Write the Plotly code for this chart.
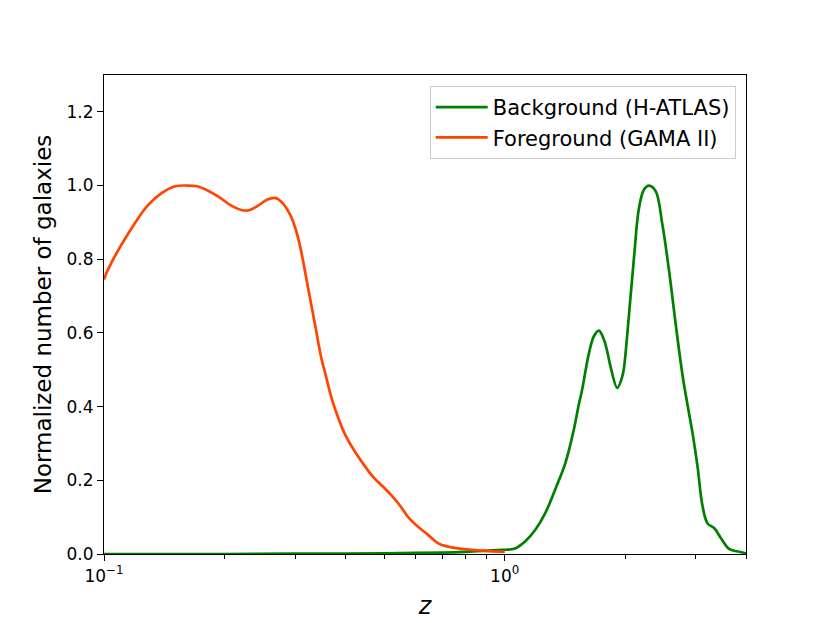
import plotly.graph_objects as go

# Background (H-ATLAS) redshift distribution
bg_z = [0.10, 0.20, 0.30, 0.40, 0.50, 0.60, 0.70, 0.80, 0.91, 0.983, 1.061, 1.124, 1.191,
        1.262, 1.337, 1.416, 1.487, 1.530, 1.560, 1.621, 1.669, 1.718, 1.768, 1.802,
        1.836, 1.909, 1.965, 1.984, 2.042, 2.101, 2.163, 2.226, 2.291, 2.380, 2.474,
        2.572, 2.672, 2.777, 2.858, 2.942, 3.028, 3.117, 3.208, 3.335, 3.464, 3.637,
        3.852, 4.00]
bg_n = [0.000, 0.000, 0.001, 0.001, 0.002, 0.003, 0.004, 0.006, 0.009, 0.011, 0.015, 0.034, 0.065,
        0.111, 0.176, 0.246, 0.337, 0.405, 0.446, 0.543, 0.591, 0.606, 0.582, 0.550,
        0.509, 0.451, 0.482, 0.505, 0.649, 0.803, 0.939, 0.989, 1.000, 0.985, 0.894,
        0.767, 0.622, 0.486, 0.405, 0.328, 0.237, 0.129, 0.083, 0.070, 0.043, 0.013,
        0.006, 0.002]

# Foreground (GAMA II) redshift distribution
fg_z = [0.100, 0.1025, 0.1196, 0.1291, 0.1395, 0.1507, 0.1612, 0.1708, 0.1809, 0.1953,
        0.2089, 0.2214, 0.2300, 0.2414, 0.2557, 0.2683, 0.2788, 0.2926, 0.3011, 0.3099,
        0.3190, 0.3284, 0.3380, 0.3479, 0.3581, 0.3686, 0.3831, 0.3980, 0.4177, 0.4425,
        0.4687, 0.4966, 0.5210, 0.5464, 0.5735, 0.6077, 0.6438, 0.6822, 0.7225, 0.7801,
        0.8266, 0.910, 1.000]
fg_n = [0.745, 0.774, 0.899, 0.948, 0.980, 0.998, 1.000, 0.998, 0.987, 0.966,
        0.944, 0.933, 0.933, 0.944, 0.962, 0.966, 0.953, 0.917, 0.880, 0.826,
        0.754, 0.681, 0.609, 0.536, 0.482, 0.428, 0.373, 0.328, 0.287, 0.246,
        0.210, 0.183, 0.160, 0.133, 0.101, 0.074, 0.052, 0.029, 0.020, 0.014,
        0.011, 0.008, 0.006]

x_major = [0.1, 1.0]
x_major_text = ["10<sup>\u22121</sup>", "10<sup>0</sup>"]
x_minor = [0.2, 0.3, 0.4, 0.5, 0.6, 0.7, 0.8, 0.9, 2, 3, 4]
y_ticks = [0.0, 0.2, 0.4, 0.6, 0.8, 1.0, 1.2]

FONT = "DejaVu Sans"

fig = go.Figure()
fig.add_trace(go.Scatter(x=bg_z, y=bg_n, mode="lines", name="Background (H-ATLAS)",
                         line=dict(color="#008000", width=2.7, shape="spline", smoothing=1.0)))
fig.add_trace(go.Scatter(x=fg_z, y=fg_n, mode="lines", name="Foreground (GAMA II)",
                         line=dict(color="#FF4500", width=2.7, shape="spline", smoothing=1.0)))

fig.update_layout(
    width=830, height=623,
    margin=dict(l=96, r=92, t=67, b=77),
    paper_bgcolor="white", plot_bgcolor="white",
    font=dict(family=FONT, color="black", size=17),
    showlegend=True,
    legend=dict(x=0.984, y=0.977, xanchor="right", yanchor="top",
                bgcolor="rgba(255,255,255,0.8)", bordercolor="#cccccc", borderwidth=1,
                itemwidth=52,
                font=dict(family=FONT, size=21, color="black")),
)
fig.update_xaxes(
    type="log", range=[-1, 0.60206],
    tickmode="array", tickvals=x_major, ticktext=x_major_text,
    ticks="outside", ticklen=6, tickwidth=1.2, tickcolor="black",
    minor=dict(tickmode="array", tickvals=x_minor, ticks="outside", ticklen=3.5,
               tickwidth=1.0, tickcolor="black", showgrid=False),
    showgrid=False, zeroline=False,
    showline=True, linecolor="black", linewidth=1.2, mirror=True,
    tickfont=dict(size=17),
    title=dict(text="<i>z</i>", font=dict(size=24), standoff=12),
)
fig.update_yaxes(
    range=[0, 1.3], tickmode="array", tickvals=y_ticks, tickformat=".1f",
    ticks="outside", ticklen=6, tickwidth=1.2, tickcolor="black",
    showgrid=False, zeroline=False,
    showline=True, linecolor="black", linewidth=1.2, mirror=True,
    tickfont=dict(size=17),
    title=dict(text="Normalized number of galaxies", font=dict(size=23), standoff=8),
)

fig.write_html("out.html")
